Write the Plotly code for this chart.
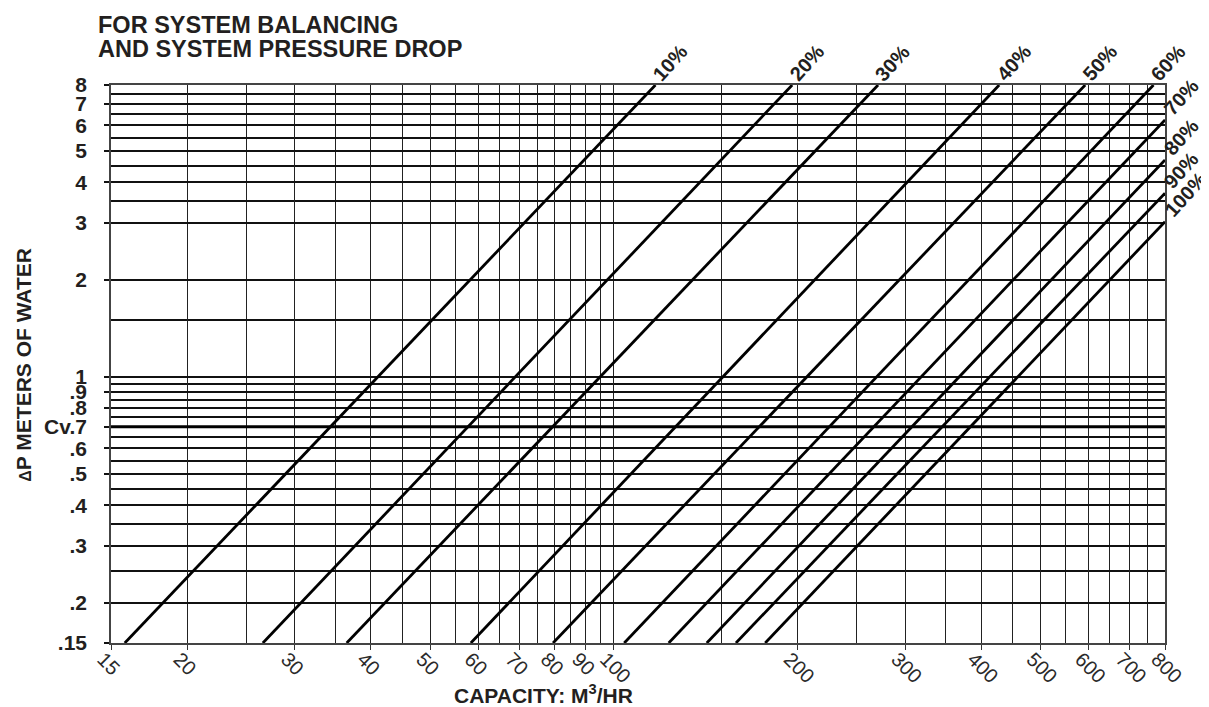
import math
import plotly.graph_objects as go

# valve opening curves: each is a straight line on log-log paper
pct_labels = ['10%', '20%', '30%', '40%', '50%', '60%', '70%', '80%', '90%', '100%']
q_start = [15.8, 26.6, 36.5, 58.3, 79.5, 104, 123, 142, 158.5, 177]    # m3/hr where line meets .15
q_end = [117, 196, 271, 428, 592, 766, 800, 800, 800, 800]              # m3/hr at upper end
dp_end = [8, 8, 8, 8, 8, 8, 6.24, 4.69, 3.70, 3.02]                     # m of water at upper end

# axes
x_range = [15, 800]
y_range = [0.15, 8]
x_major = [15, 20, 30, 40, 50, 60, 70, 80, 90, 100, 200, 300, 400, 500, 600, 700, 800]
x_minor = [25, 35, 45, 55, 65, 75, 85, 95, 150, 250, 350, 450, 550, 650, 750]
y_major = [0.15, 0.2, 0.3, 0.4, 0.5, 0.6, 0.7, 0.8, 0.9, 1, 2, 3, 4, 5, 6, 7, 8]
y_major_text = ['.15', '.2', '.3', '.4', '.5', '.6', '.7', '.8', '.9', '1', '2', '3', '4', '5', '6', '7', '8']
y_minor = [0.25, 0.35, 0.45, 0.55, 0.65, 0.75, 0.85, 0.95, 1.5, 3.5, 4.5, 5.5, 6.5, 7.5]
cv_level = 0.7

FONT = 'Liberation Sans, Arial, Helvetica, sans-serif'
INK = '#231f20'

fig = go.Figure()

# Cv reference line (heavier)
fig.add_trace(go.Scatter(x=x_range, y=[cv_level, cv_level], mode='lines',
                         line=dict(color='black', width=3), hoverinfo='skip', showlegend=False))

for lab, qs, qe, de in zip(pct_labels, q_start, q_end, dp_end):
    fig.add_trace(go.Scatter(x=[qs, qe], y=[y_range[0], de], mode='lines',
                             line=dict(color='black', width=2.8), hoverinfo='skip',
                             showlegend=False, name=lab))
    on_top = de >= y_range[1]
    # rotated box: its left-bottom corner is empty, so pull it back toward the line end
    fig.add_annotation(x=math.log10(qe), y=math.log10(de), xref='x', yref='y',
                       text=lab, showarrow=False, textangle=-48,
                       xanchor='left', yanchor='bottom',
                       xshift=-10 if on_top else -8, yshift=-3 if on_top else -2,
                       font=dict(family=FONT, size=20, color=INK, weight='bold'))

fig.update_xaxes(type='log', range=[math.log10(x_range[0]), math.log10(x_range[1])],
                 tickmode='array', tickvals=x_major, ticktext=[str(v) for v in x_major],
                 tickangle=45, ticks='outside', ticklen=5, tickcolor='#333', tickwidth=1.3,
                 ticklabelstandoff=-10, ticklabelshift=-8,
                 tickfont=dict(family=FONT, size=20, color='#2a2a2a'),
                 showgrid=True, gridcolor='#222', gridwidth=1.3,
                 minor=dict(tickmode='array', tickvals=x_minor, showgrid=True,
                            gridcolor='#222', gridwidth=1.3, ticks=''),
                 showline=True, linecolor='#444', linewidth=1.6, mirror=True, zeroline=False)

fig.update_yaxes(type='log', range=[math.log10(y_range[0]), math.log10(y_range[1])],
                 tickmode='array', tickvals=y_major, ticktext=y_major_text,
                 ticks='outside', ticklen=5, tickcolor='#111', tickwidth=1.5,
                 ticklabelstandoff=13,
                 tickfont=dict(family=FONT, size=21, color=INK, weight='bold'),
                 showgrid=True, gridcolor='#111', gridwidth=1.5,
                 minor=dict(tickmode='array', tickvals=y_minor, showgrid=True,
                            gridcolor='#111', gridwidth=1.5, ticks=''),
                 showline=True, linecolor='#444', linewidth=1.6, mirror=True, zeroline=False)

# titles
fig.add_annotation(xref='paper', yref='paper', x=-0.0142, y=1.1075, xanchor='left', yanchor='middle',
                   text='FOR SYSTEM BALANCING', showarrow=False,
                   font=dict(family=FONT, size=23.5, color=INK, weight='bold'))
fig.add_annotation(xref='paper', yref='paper', x=-0.0142, y=1.0645, xanchor='left', yanchor='middle',
                   text='AND SYSTEM PRESSURE DROP', showarrow=False,
                   font=dict(family=FONT, size=23.5, color=INK, weight='bold'))
fig.add_annotation(xref='paper', yref='paper', x=-0.083, y=0.498, xanchor='center', yanchor='middle',
                   text='<span style="font-size:16px">Δ</span>P METERS OF WATER', textangle=-90,
                   showarrow=False, font=dict(family=FONT, size=21, color=INK, weight='bold'))
fig.add_annotation(xref='paper', yref='paper', x=0.410, y=-0.092, xanchor='center', yanchor='middle',
                   text='CAPACITY: M<sup>3</sup>/HR', showarrow=False,
                   font=dict(family=FONT, size=21, color=INK, weight='bold'))
fig.add_annotation(xref='paper', yref='y', x=-0.036, y=math.log10(cv_level), xanchor='right',
                   yanchor='middle', text='Cv', showarrow=False,
                   font=dict(family=FONT, size=21, color=INK, weight='bold'))

fig.update_layout(width=1209, height=707, margin=dict(l=103, r=52, t=77, b=72),
                  plot_bgcolor='white', paper_bgcolor='white', showlegend=False)

fig.write_html("out.html")
